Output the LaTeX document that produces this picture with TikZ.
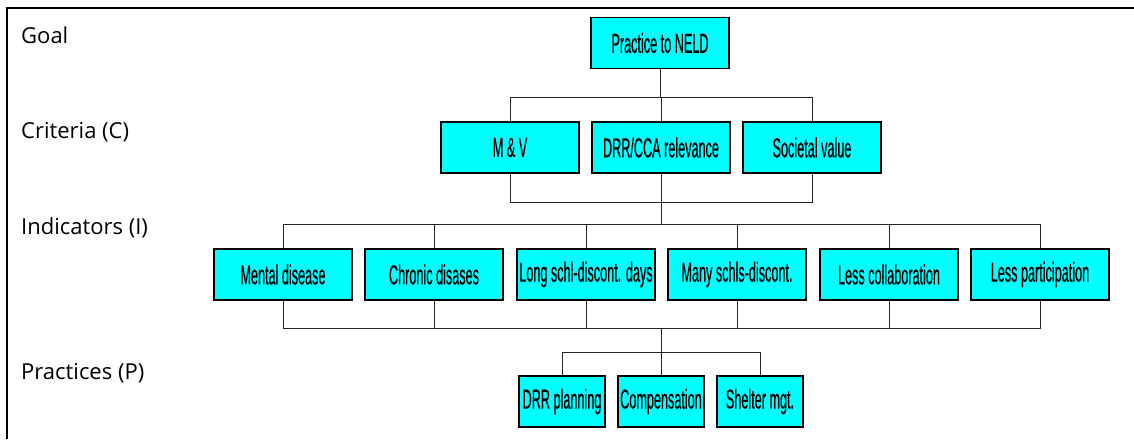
\documentclass[tikz,border=0pt]{standalone}
\usepackage{fontspec}
\setmainfont{Open Sans}
\newfontfamily\boxfont[FakeStretch=0.46,FakeBold=0.4]{Liberation Sans}
\definecolor{boxcyan}{RGB}{0,255,255}
\begin{document}
\begin{tikzpicture}[x=1pt,y=-1pt]
	\tikzstyle{every node}+=[inner sep=0pt]
	\tikzstyle{lvlbox}=[draw=black, fill=boxcyan, line width=1.3pt, minimum width=138pt, minimum height=51pt, font=\boxfont\fontsize{27.5}{27.5}\selectfont]
	\tikzstyle{pbox}=[lvlbox, minimum width=86pt]
	\tikzstyle{lvltext}=[anchor=west, font=\fontsize{22}{22}\selectfont]
	\tikzstyle{tree}=[black!85, line width=1pt]
	\useasboundingbox (0,0) rectangle (1134,439);
	\draw [line width=2pt] (6.5,439) -- (6.5,7.5) -- (1134,7.5);
	% level names
	\node [lvltext] (lgoal) at (21,35) {Goal};
	\node [lvltext] (lcrit) at (21,132) {Criteria (C)};
	\node [lvltext] (lind) at (21,228) {Indicators (I)};
	\node [lvltext] (lprac) at (21,373) {Practices (P)};
	% goal
	\node [lvlbox] (goal) at (660,43) {Practice to NELD};
	% criteria
	\node [lvlbox] (mv) at (510,147.5) {M \& V};
	\node [lvlbox] (drr) at (661,147.5) {DRR/CCA relevance};
	\node [lvlbox] (sv) at (812,147.5) {Societal value};
	% indicators
	\node [lvlbox] (ment) at (283,274.5) {Mental disease};
	\node [lvlbox] (chron) at (434,274.5) {Chronic disases};
	\node [lvlbox] (longd) at (586,274.5) {Long schl-discont. days};
	\node [lvlbox] (many) at (737,274.5) {Many schls-discont.};
	\node [lvlbox] (coll) at (889,274.5) {Less collaboration};
	\node [lvlbox] (part) at (1040,274.5) {Less participation};
	% practices
	\node [pbox] (plan) at (562,401.5) {DRR planning};
	\node [pbox] (comp) at (661,401.5) {Compensation};
	\node [pbox] (shel) at (760,401.5) {Shelter mgt.};
	% bars
	\coordinate (cbar) at (661,97);
	\coordinate (cbot) at (661,202);
	\coordinate (ibar) at (661,224);
	\coordinate (ibot) at (661,328);
	\coordinate (pbar) at (661,352);
	% goal to criteria
	\draw [tree] (goal.south) -- (goal.south |- cbar);
	\draw [tree] (mv.north) -- (mv.north |- cbar) -- (sv.north |- cbar) -- (sv.north);
	\draw [tree] (drr.north) -- (drr.north |- cbar);
	% criteria to indicators
	\draw [tree] (mv.south) -- (mv.south |- cbot) -- (sv.south |- cbot) -- (sv.south);
	\draw [tree] (drr.south) -- (drr.south |- ibar);
	\draw [tree] (ment.north) -- (ment.north |- ibar) -- (part.north |- ibar) -- (part.north);
	\foreach \n in {chron,longd,many,coll}
		\draw [tree] (\n.north) -- (\n.north |- ibar);
	% indicators to practices
	\draw [tree] (ment.south) -- (ment.south |- ibot) -- (part.south |- ibot) -- (part.south);
	\foreach \n in {chron,longd,many,coll}
		\draw [tree] (\n.south) -- (\n.south |- ibot);
	\draw [tree] (ibot) -- (pbar);
	\draw [tree] (plan.north) -- (plan.north |- pbar) -- (shel.north |- pbar) -- (shel.north);
	\draw [tree] (comp.north) -- (comp.north |- pbar);
\end{tikzpicture}
\end{document}
